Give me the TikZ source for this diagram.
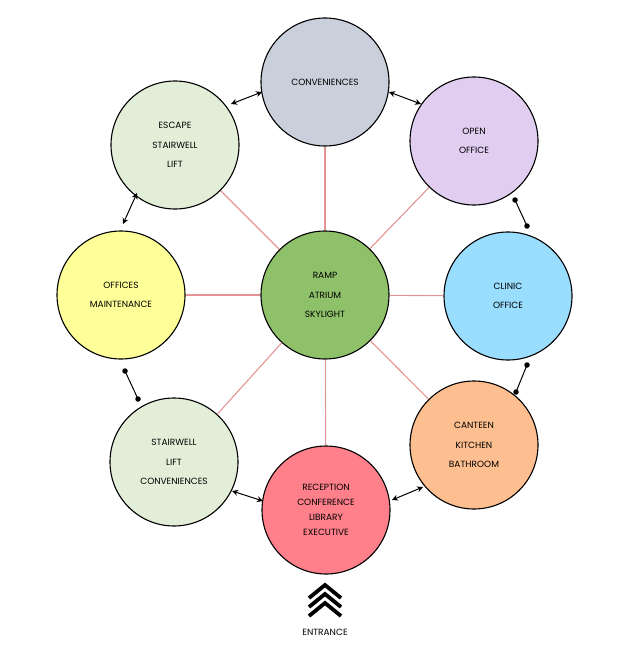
\documentclass[tikz,border=0pt]{standalone}
\usepackage{fontspec}
\setmainfont{Poppins}
\usetikzlibrary{arrows.meta}
\definecolor{cgray}{HTML}{C9D0DC}
\definecolor{clav}{HTML}{E0CDF0}
\definecolor{cblue}{HTML}{99DDFF}
\definecolor{cpeach}{HTML}{FDBF8F}
\definecolor{cred}{HTML}{FF808A}
\definecolor{clgreen}{HTML}{E2EED8}
\definecolor{cyellow}{HTML}{FFFF99}
\definecolor{cgreen}{HTML}{8FC16A}
\definecolor{cpink}{HTML}{E39494}
\tikzset{
  room/.style={circle, draw=black, line width=1.1pt, minimum size=128pt, inner sep=0pt, align=center, font=\fontsize{9}{19.5}\selectfont},
  link/.style={draw=cpink, line width=1.1pt},
  twoway/.style={line width=1pt, {Stealth[length=6pt,width=6pt]}-{Stealth[length=6pt,width=6pt]}},
  dotlink/.style={line width=1pt},
  dotend/.style={circle, fill=black, inner sep=0pt, minimum size=5.5pt},
  chev/.style={line width=3.8pt, miter limit=10},
}
\begin{document}
\begin{tikzpicture}[x=1pt,y=-1pt]
\useasboundingbox (0,0) rectangle (630,658);
\node[room, fill=cgreen] (c) at (325,295) {RAMP\\ATRIUM\\SKYLIGHT};
\node[room, fill=cgray] (conv) at (325,82) {CONVENIENCES};
\node[room, fill=clav] (open) at (474,141) {OPEN\\OFFICE};
\node[room, fill=cblue] (clinic) at (508,296) {CLINIC\\OFFICE};
\node[room, fill=cpeach] (cant) at (474,445) {CANTEEN\\KITCHEN\\BATHROOM};
\node[room, fill=cred, font=\fontsize{9}{15}\selectfont] (rec) at (326,510) {RECEPTION\\CONFERENCE\\LIBRARY\\EXECUTIVE};
\node[room, fill=clgreen] (stair) at (174,462) {STAIRWELL\\LIFT\\CONVENIENCES};
\node[room, fill=cyellow] (offices) at (121,295) {OFFICES\\MAINTENANCE};
\node[room, fill=clgreen] (escape) at (175,145) {ESCAPE\\STAIRWELL\\LIFT};
% spokes
\foreach \n in {conv,open,clinic,cant,rec,stair,offices,escape}{
  \draw[link] (c) -- (\n);
}
% two-way arrows
\coordinate (a1a) at (231,104); \coordinate (a1b) at (262,92);
\coordinate (a2a) at (389,92); \coordinate (a2b) at (421,104);
\coordinate (a3a) at (137,193); \coordinate (a3b) at (123,224);
\coordinate (a4a) at (232,491); \coordinate (a4b) at (263,501);
\coordinate (a5a) at (392,500); \coordinate (a5b) at (423,487);
\foreach \a/\b in {a1a/a1b,a2a/a2b,a3a/a3b,a4a/a4b,a5a/a5b}{
  \draw[twoway] (\a) -- (\b);
}
% dot links
\coordinate (d1a) at (515,200); \coordinate (d1b) at (527,226);
\coordinate (d2a) at (527,365); \coordinate (d2b) at (516,392);
\coordinate (d3a) at (125,371); \coordinate (d3b) at (138,399);
\foreach \a/\b in {d1a/d1b,d2a/d2b,d3a/d3b}{
  \draw[dotlink] (\a) -- (\b);
  \node[dotend] at (\a) {};
  \node[dotend] at (\b) {};
}
% entrance
\coordinate (e1l) at (309,598); \coordinate (e1t) at (325,585); \coordinate (e1r) at (341,598);
\coordinate (e2l) at (309,607); \coordinate (e2t) at (325,594); \coordinate (e2r) at (341,607);
\coordinate (e3l) at (309,616); \coordinate (e3t) at (325,603); \coordinate (e3r) at (341,616);
\draw[chev] (e1l) -- (e1t) -- (e1r);
\draw[chev] (e2l) -- (e2t) -- (e2r);
\draw[chev] (e3l) -- (e3t) -- (e3r);
\node[font=\fontsize{9}{10}\selectfont] (ent) at (325,632) {ENTRANCE};
\end{tikzpicture}
\end{document}
